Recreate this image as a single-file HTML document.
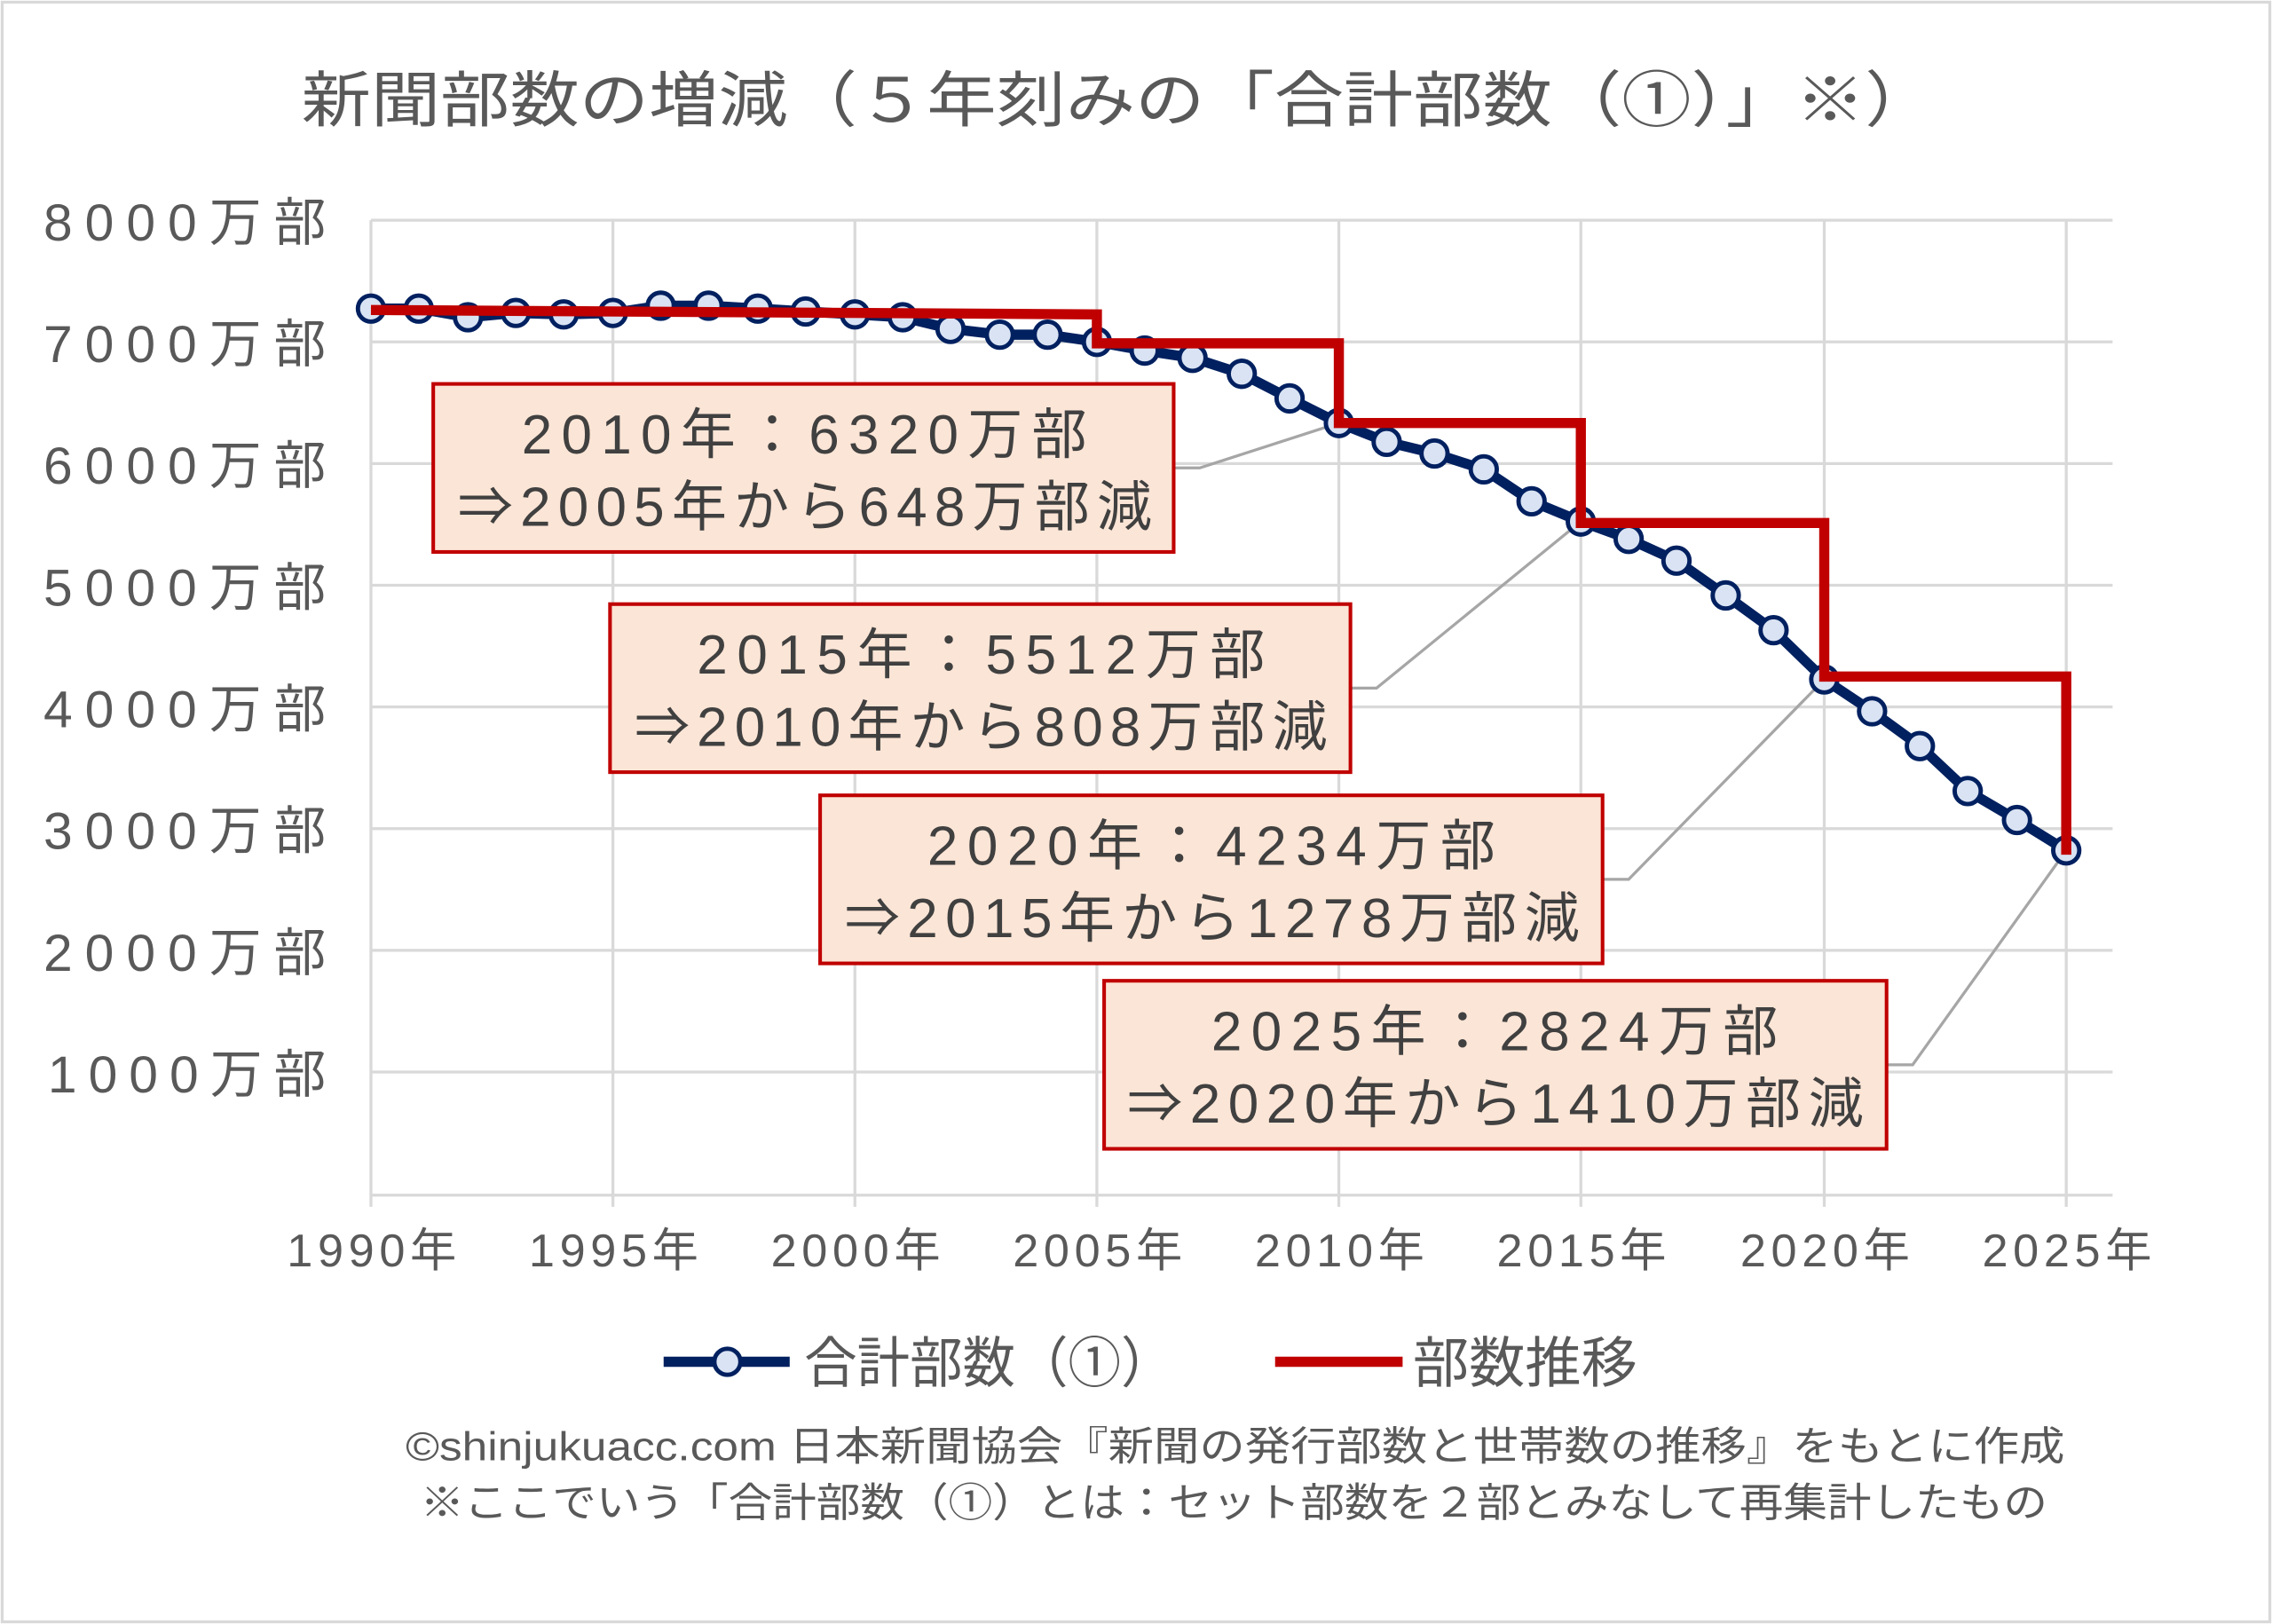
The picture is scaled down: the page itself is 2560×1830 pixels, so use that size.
<!DOCTYPE html>
<html><head><meta charset="utf-8"><style>
html,body{margin:0;padding:0;background:#fff;}
svg{display:block;}
text{font-family:"Liberation Sans","Noto Sans CJK JP",sans-serif;fill:#595959;}
</style></head><body>
<svg width="2560" height="1830" viewBox="0 0 1568 1121" preserveAspectRatio="none" xmlns="http://www.w3.org/2000/svg">
<rect x="1.5" y="1.5" width="1565" height="1118" fill="#fff" stroke="#d9d9d9" stroke-width="2"/>
<text x="208" y="84" font-size="42" textLength="1127" lengthAdjust="spacingAndGlyphs">新聞部数の増減（５年刻みの「合計部数（①）」※）</text>
<g stroke="#d9d9d9" stroke-width="2">
<line x1="256" y1="152" x2="1458" y2="152"/><line x1="256" y1="236" x2="1458" y2="236"/>
<line x1="256" y1="320" x2="1458" y2="320"/><line x1="256" y1="404" x2="1458" y2="404"/>
<line x1="256" y1="488" x2="1458" y2="488"/><line x1="256" y1="572" x2="1458" y2="572"/>
<line x1="256" y1="656" x2="1458" y2="656"/><line x1="256" y1="740" x2="1458" y2="740"/>
<line x1="256" y1="152" x2="256" y2="833"/><line x1="423" y1="152" x2="423" y2="833"/>
<line x1="590" y1="152" x2="590" y2="833"/><line x1="757" y1="152" x2="757" y2="833"/>
<line x1="924" y1="152" x2="924" y2="833"/><line x1="1091" y1="152" x2="1091" y2="833"/>
<line x1="1259" y1="152" x2="1259" y2="833"/><line x1="1426" y1="152" x2="1426" y2="833"/>
<line x1="256" y1="825" x2="1458" y2="825"/>
</g>
<g font-size="36" lengthAdjust="spacingAndGlyphs">
<text x="30" y="166" textLength="195">8000万部</text><text x="30" y="250" textLength="195">7000万部</text>
<text x="30" y="334" textLength="195">6000万部</text><text x="30" y="418" textLength="195">5000万部</text>
<text x="30" y="502" textLength="195">4000万部</text><text x="30" y="586" textLength="195">3000万部</text>
<text x="30" y="670" textLength="195">2000万部</text><text x="33" y="754" textLength="192">1000万部</text>
</g>
<g font-size="32">
<text x="198" y="874" textLength="117">1990年</text><text x="365" y="874" textLength="117">1995年</text><text x="532" y="874" textLength="117">2000年</text>
<text x="699" y="874" textLength="117">2005年</text><text x="866" y="874" textLength="117">2010年</text><text x="1033" y="874" textLength="117">2015年</text>
<text x="1201" y="874" textLength="117">2020年</text><text x="1368" y="874" textLength="117">2025年</text>
</g>
<g stroke="#a6a6a6" stroke-width="2" fill="none">
<polyline points="810,323 828,323 924,292"/>
<polyline points="932,475 950,475 1091,360"/>
<polyline points="1106,607 1124,607 1259,469"/>
<polyline points="1302,735 1320,735 1426,587"/>
</g>
<polyline fill="none" stroke="#002060" stroke-width="7" stroke-linejoin="round" points="256,213 289,213 323,219 356,216 389,217 423,216 456,211 489,211 523,213 556,215 590,217 623,219 656,227 690,231 723,231 757,236 790,242 823,247 857,258 890,275 924,292 957,305 990,313 1024,324 1057,346 1091,360 1124,372 1157,387 1191,411 1224,435 1259,469 1292,491 1325,515 1358,546 1392,566 1426,587"/>
<g fill="#dae3f3" stroke="#002060" stroke-width="3">
<circle cx="256" cy="213" r="9"/><circle cx="289" cy="213" r="9"/><circle cx="323" cy="219" r="9"/><circle cx="356" cy="216" r="9"/><circle cx="389" cy="217" r="9"/><circle cx="423" cy="216" r="9"/><circle cx="456" cy="211" r="9"/><circle cx="489" cy="211" r="9"/><circle cx="523" cy="213" r="9"/><circle cx="556" cy="215" r="9"/><circle cx="590" cy="217" r="9"/><circle cx="623" cy="219" r="9"/><circle cx="656" cy="227" r="9"/><circle cx="690" cy="231" r="9"/><circle cx="723" cy="231" r="9"/><circle cx="757" cy="236" r="9"/><circle cx="790" cy="242" r="9"/><circle cx="823" cy="247" r="9"/><circle cx="857" cy="258" r="9"/><circle cx="890" cy="275" r="9"/><circle cx="924" cy="292" r="9"/><circle cx="957" cy="305" r="9"/><circle cx="990" cy="313" r="9"/><circle cx="1024" cy="324" r="9"/><circle cx="1057" cy="346" r="9"/><circle cx="1091" cy="360" r="9"/><circle cx="1124" cy="372" r="9"/><circle cx="1157" cy="387" r="9"/><circle cx="1191" cy="411" r="9"/><circle cx="1224" cy="435" r="9"/><circle cx="1259" cy="469" r="9"/><circle cx="1292" cy="491" r="9"/><circle cx="1325" cy="515" r="9"/><circle cx="1358" cy="546" r="9"/><circle cx="1392" cy="566" r="9"/><circle cx="1426" cy="587" r="9"/>
</g>
<polyline fill="none" stroke="#c00000" stroke-width="7" stroke-linejoin="miter" points="256,214 757,217 757,237 924,237 924,292 1091,292 1091,361 1259,361 1259,467 1426,467 1426,590"/>
<g fill="#fbe5d6" stroke="#c00000" stroke-width="2.5">
<rect x="299" y="265" width="511" height="116"/>
<rect x="421" y="417" width="511" height="116"/>
<rect x="566" y="549" width="540" height="116"/>
<rect x="762" y="677" width="540" height="116"/>
</g>
<g font-size="38" lengthAdjust="spacingAndGlyphs">
<text x="360" y="313" textLength="390" style="fill:#404040">2010年：6320万部</text><text x="316" y="363" textLength="479" style="fill:#404040">⇒2005年から648万部減</text>
<text x="481" y="465" textLength="392" style="fill:#404040">2015年：5512万部</text><text x="438" y="515" textLength="478" style="fill:#404040">⇒2010年から808万部減</text>
<text x="640" y="597" textLength="392" style="fill:#404040">2020年：4234万部</text><text x="583" y="647" textLength="507" style="fill:#404040">⇒2015年から1278万部減</text>
<text x="836" y="725" textLength="391" style="fill:#404040">2025年：2824万部</text><text x="778" y="775" textLength="508" style="fill:#404040">⇒2020年から1410万部減</text>
</g>
<line x1="458" y1="940" x2="545" y2="940" stroke="#002060" stroke-width="7"/>
<circle cx="502" cy="940" r="9" fill="#dae3f3" stroke="#002060" stroke-width="3"/>
<text x="555" y="954" font-size="38" textLength="255" lengthAdjust="spacingAndGlyphs">合計部数（①）</text>
<line x1="880" y1="940" x2="968" y2="940" stroke="#c00000" stroke-width="7"/>
<text x="975" y="954" font-size="38" textLength="155" lengthAdjust="spacingAndGlyphs">部数推移</text>
<text x="280" y="1008" font-size="28" textLength="1145" lengthAdjust="spacingAndGlyphs">©shinjukuacc.com 日本新聞協会『新聞の発行部数と世帯数の推移』をもとに作成</text>
<text x="290" y="1047" font-size="28" textLength="1123" lengthAdjust="spacingAndGlyphs">※ここでいう「合計部数（①）とは：セット部数を２部とみなして再集計したもの</text>
</svg>
</body></html>
